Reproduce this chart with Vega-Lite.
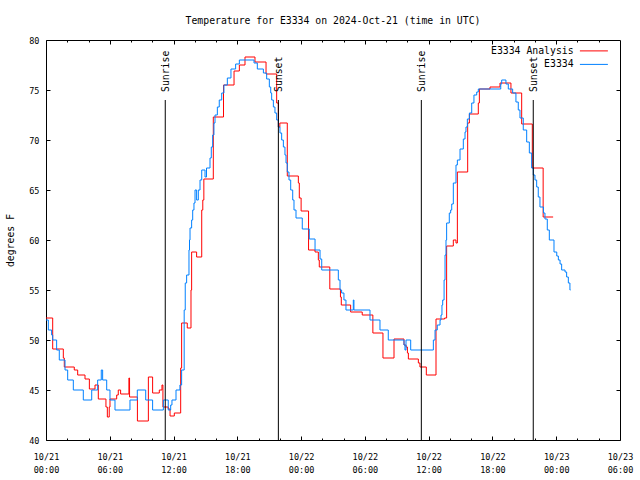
{
  "$schema": "https://vega.github.io/schema/vega-lite/v6.json",
  "width": 574,
  "height": 400,
  "autosize": {"type": "none"},
  "padding": {"left": 46, "top": 40, "right": 20, "bottom": 40},
  "background": "white",
  "config": {
    "view": {"stroke": "black", "strokeWidth": 1},
    "font": "DejaVu Sans Mono",
    "axis": {"domain": false, "grid": false, "tickColor": "black", "tickWidth": 1, "labelColor": "black", "labelFont": "DejaVu Sans Mono", "labelFontSize": 8.5, "titleColor": "black"}
  },
  "title": {"text": "Temperature for E3334 on 2024-Oct-21 (time in UTC)", "font": "DejaVu Sans Mono", "fontSize": 9.8, "fontWeight": "normal", "color": "black", "anchor": "middle", "frame": "group", "baseline": "alphabetic", "offset": 2},
  "datasets": {
    "temps": [
      {"series": "E3334 Analysis", "hour": 0, "temp": 52.2},
      {"series": "E3334 Analysis", "hour": 0.63, "temp": 49.1},
      {"series": "E3334 Analysis", "hour": 1.63, "temp": 48.2},
      {"series": "E3334 Analysis", "hour": 1.72, "temp": 47.3},
      {"series": "E3334 Analysis", "hour": 2.66, "temp": 47.0},
      {"series": "E3334 Analysis", "hour": 2.98, "temp": 46.5},
      {"series": "E3334 Analysis", "hour": 3.67, "temp": 46.1},
      {"series": "E3334 Analysis", "hour": 4.08, "temp": 45.1},
      {"series": "E3334 Analysis", "hour": 4.61, "temp": 45.5},
      {"series": "E3334 Analysis", "hour": 4.92, "temp": 44.1},
      {"series": "E3334 Analysis", "hour": 5.64, "temp": 43.3},
      {"series": "E3334 Analysis", "hour": 5.77, "temp": 42.3},
      {"series": "E3334 Analysis", "hour": 5.95, "temp": 43.3},
      {"series": "E3334 Analysis", "hour": 6.02, "temp": 44.1},
      {"series": "E3334 Analysis", "hour": 6.65, "temp": 44.5},
      {"series": "E3334 Analysis", "hour": 6.8, "temp": 45.0},
      {"series": "E3334 Analysis", "hour": 7.02, "temp": 44.6},
      {"series": "E3334 Analysis", "hour": 7.8, "temp": 46.2},
      {"series": "E3334 Analysis", "hour": 7.86, "temp": 44.3},
      {"series": "E3334 Analysis", "hour": 8.6, "temp": 41.9},
      {"series": "E3334 Analysis", "hour": 9.63, "temp": 46.3},
      {"series": "E3334 Analysis", "hour": 10.03, "temp": 44.7},
      {"series": "E3334 Analysis", "hour": 10.66, "temp": 45.0},
      {"series": "E3334 Analysis", "hour": 10.91, "temp": 45.5},
      {"series": "E3334 Analysis", "hour": 11.0, "temp": 43.3},
      {"series": "E3334 Analysis", "hour": 11.5, "temp": 43.1},
      {"series": "E3334 Analysis", "hour": 11.67, "temp": 42.4},
      {"series": "E3334 Analysis", "hour": 12.07, "temp": 42.7},
      {"series": "E3334 Analysis", "hour": 12.67, "temp": 47.2},
      {"series": "E3334 Analysis", "hour": 12.76, "temp": 51.7},
      {"series": "E3334 Analysis", "hour": 13.29, "temp": 51.2},
      {"series": "E3334 Analysis", "hour": 13.64, "temp": 55.0},
      {"series": "E3334 Analysis", "hour": 13.7, "temp": 58.8},
      {"series": "E3334 Analysis", "hour": 14.17, "temp": 58.3},
      {"series": "E3334 Analysis", "hour": 14.65, "temp": 63.0},
      {"series": "E3334 Analysis", "hour": 14.75, "temp": 64.0},
      {"series": "E3334 Analysis", "hour": 14.85, "temp": 66.1},
      {"series": "E3334 Analysis", "hour": 15.74, "temp": 72.3},
      {"series": "E3334 Analysis", "hour": 16.7, "temp": 75.5},
      {"series": "E3334 Analysis", "hour": 17.69, "temp": 76.9},
      {"series": "E3334 Analysis", "hour": 18.19, "temp": 77.5},
      {"series": "E3334 Analysis", "hour": 18.72, "temp": 78.3},
      {"series": "E3334 Analysis", "hour": 19.66, "temp": 77.8},
      {"series": "E3334 Analysis", "hour": 20.7, "temp": 76.6},
      {"series": "E3334 Analysis", "hour": 21.7, "temp": 73.7},
      {"series": "E3334 Analysis", "hour": 21.86, "temp": 71.3},
      {"series": "E3334 Analysis", "hour": 22.0, "temp": 71.7},
      {"series": "E3334 Analysis", "hour": 22.7, "temp": 66.4},
      {"series": "E3334 Analysis", "hour": 23.74, "temp": 65.7},
      {"series": "E3334 Analysis", "hour": 23.83, "temp": 64.2},
      {"series": "E3334 Analysis", "hour": 24.0, "temp": 62.9},
      {"series": "E3334 Analysis", "hour": 24.7, "temp": 59.0},
      {"series": "E3334 Analysis", "hour": 25.31, "temp": 58.8},
      {"series": "E3334 Analysis", "hour": 25.62, "temp": 58.0},
      {"series": "E3334 Analysis", "hour": 25.71, "temp": 57.3},
      {"series": "E3334 Analysis", "hour": 26.7, "temp": 55.1},
      {"series": "E3334 Analysis", "hour": 27.7, "temp": 54.3},
      {"series": "E3334 Analysis", "hour": 27.78, "temp": 53.5},
      {"series": "E3334 Analysis", "hour": 28.66, "temp": 52.8},
      {"series": "E3334 Analysis", "hour": 29.75, "temp": 52.5},
      {"series": "E3334 Analysis", "hour": 30.75, "temp": 50.7},
      {"series": "E3334 Analysis", "hour": 31.7, "temp": 48.2},
      {"series": "E3334 Analysis", "hour": 32.74, "temp": 50.1},
      {"series": "E3334 Analysis", "hour": 33.68, "temp": 49.5},
      {"series": "E3334 Analysis", "hour": 33.87, "temp": 49.3},
      {"series": "E3334 Analysis", "hour": 34.0, "temp": 48.7},
      {"series": "E3334 Analysis", "hour": 34.09, "temp": 48.1},
      {"series": "E3334 Analysis", "hour": 35.03, "temp": 47.7},
      {"series": "E3334 Analysis", "hour": 35.18, "temp": 47.3},
      {"series": "E3334 Analysis", "hour": 35.78, "temp": 46.5},
      {"series": "E3334 Analysis", "hour": 36.69, "temp": 52.1},
      {"series": "E3334 Analysis", "hour": 37.5, "temp": 52.2},
      {"series": "E3334 Analysis", "hour": 37.69, "temp": 59.4},
      {"series": "E3334 Analysis", "hour": 38.32, "temp": 60.0},
      {"series": "E3334 Analysis", "hour": 38.57, "temp": 59.7},
      {"series": "E3334 Analysis", "hour": 38.7, "temp": 66.8},
      {"series": "E3334 Analysis", "hour": 39.67, "temp": 71.7},
      {"series": "E3334 Analysis", "hour": 39.83, "temp": 72.6},
      {"series": "E3334 Analysis", "hour": 40.67, "temp": 73.7},
      {"series": "E3334 Analysis", "hour": 40.77, "temp": 75.1},
      {"series": "E3334 Analysis", "hour": 41.77, "temp": 75.3},
      {"series": "E3334 Analysis", "hour": 42.71, "temp": 75.7},
      {"series": "E3334 Analysis", "hour": 43.74, "temp": 74.7},
      {"series": "E3334 Analysis", "hour": 44.75, "temp": 71.6},
      {"series": "E3334 Analysis", "hour": 45.75, "temp": 67.2},
      {"series": "E3334 Analysis", "hour": 46.77, "temp": 62.3},
      {"series": "E3334 Analysis", "hour": 47.71, "temp": 62.3},
      {"series": "E3334", "hour": 0, "temp": 52.0},
      {"series": "E3334", "hour": 0.22, "temp": 51.0},
      {"series": "E3334", "hour": 0.53, "temp": 50.5},
      {"series": "E3334", "hour": 0.63, "temp": 50.0},
      {"series": "E3334", "hour": 1.0, "temp": 49.0},
      {"series": "E3334", "hour": 1.25, "temp": 48.0},
      {"series": "E3334", "hour": 1.79, "temp": 47.0},
      {"series": "E3334", "hour": 2.04, "temp": 46.0},
      {"series": "E3334", "hour": 2.57, "temp": 45.0},
      {"series": "E3334", "hour": 3.51, "temp": 44.0},
      {"series": "E3334", "hour": 4.3, "temp": 45.0},
      {"series": "E3334", "hour": 4.86, "temp": 46.0},
      {"series": "E3334", "hour": 5.2, "temp": 47.0},
      {"series": "E3334", "hour": 5.33, "temp": 46.0},
      {"series": "E3334", "hour": 5.71, "temp": 45.0},
      {"series": "E3334", "hour": 6.02, "temp": 44.0},
      {"series": "E3334", "hour": 6.49, "temp": 43.0},
      {"series": "E3334", "hour": 7.9, "temp": 44.0},
      {"series": "E3334", "hour": 8.59, "temp": 45.0},
      {"series": "E3334", "hour": 9.38, "temp": 44.0},
      {"series": "E3334", "hour": 10.03, "temp": 43.0},
      {"series": "E3334", "hour": 11.04, "temp": 44.0},
      {"series": "E3334", "hour": 11.5, "temp": 43.0},
      {"series": "E3334", "hour": 11.73, "temp": 43.5},
      {"series": "E3334", "hour": 11.85, "temp": 44.0},
      {"series": "E3334", "hour": 12.23, "temp": 45.0},
      {"series": "E3334", "hour": 12.6, "temp": 45.5},
      {"series": "E3334", "hour": 12.76, "temp": 47.0},
      {"series": "E3334", "hour": 13.0, "temp": 53.0},
      {"series": "E3334", "hour": 13.1, "temp": 55.7},
      {"series": "E3334", "hour": 13.23, "temp": 56.5},
      {"series": "E3334", "hour": 13.45, "temp": 59.0},
      {"series": "E3334", "hour": 13.5, "temp": 60.0},
      {"series": "E3334", "hour": 13.55, "temp": 61.2},
      {"series": "E3334", "hour": 13.7, "temp": 62.0},
      {"series": "E3334", "hour": 13.8, "temp": 63.0},
      {"series": "E3334", "hour": 13.92, "temp": 63.7},
      {"series": "E3334", "hour": 14.02, "temp": 65.0},
      {"series": "E3334", "hour": 14.17, "temp": 64.0},
      {"series": "E3334", "hour": 14.33, "temp": 65.0},
      {"series": "E3334", "hour": 14.49, "temp": 66.0},
      {"series": "E3334", "hour": 14.65, "temp": 67.0},
      {"series": "E3334", "hour": 14.96, "temp": 66.3},
      {"series": "E3334", "hour": 15.1, "temp": 67.2},
      {"series": "E3334", "hour": 15.43, "temp": 68.2},
      {"series": "E3334", "hour": 15.55, "temp": 69.3},
      {"series": "E3334", "hour": 15.68, "temp": 70.5},
      {"series": "E3334", "hour": 15.8, "temp": 71.7},
      {"series": "E3334", "hour": 15.9, "temp": 72.5},
      {"series": "E3334", "hour": 16.12, "temp": 73.3},
      {"series": "E3334", "hour": 16.3, "temp": 74.0},
      {"series": "E3334", "hour": 16.53, "temp": 74.7},
      {"series": "E3334", "hour": 16.74, "temp": 75.5},
      {"series": "E3334", "hour": 17.06, "temp": 76.2},
      {"series": "E3334", "hour": 17.4, "temp": 77.1},
      {"series": "E3334", "hour": 17.84, "temp": 77.6},
      {"series": "E3334", "hour": 18.19, "temp": 78.0},
      {"series": "E3334", "hour": 19.57, "temp": 77.7},
      {"series": "E3334", "hour": 19.88, "temp": 77.1},
      {"series": "E3334", "hour": 20.45, "temp": 76.7},
      {"series": "E3334", "hour": 20.76, "temp": 76.1},
      {"series": "E3334", "hour": 21.01, "temp": 75.3},
      {"series": "E3334", "hour": 21.14, "temp": 74.7},
      {"series": "E3334", "hour": 21.23, "temp": 74.0},
      {"series": "E3334", "hour": 21.39, "temp": 73.3},
      {"series": "E3334", "hour": 21.54, "temp": 72.7},
      {"series": "E3334", "hour": 21.7, "temp": 72.0},
      {"series": "E3334", "hour": 21.86, "temp": 71.3},
      {"series": "E3334", "hour": 22.01, "temp": 70.7},
      {"series": "E3334", "hour": 22.17, "temp": 70.0},
      {"series": "E3334", "hour": 22.33, "temp": 69.3},
      {"series": "E3334", "hour": 22.48, "temp": 68.5},
      {"series": "E3334", "hour": 22.58, "temp": 67.7},
      {"series": "E3334", "hour": 22.7, "temp": 66.8},
      {"series": "E3334", "hour": 22.86, "temp": 66.0},
      {"series": "E3334", "hour": 23.02, "temp": 65.0},
      {"series": "E3334", "hour": 23.21, "temp": 64.0},
      {"series": "E3334", "hour": 23.33, "temp": 63.0},
      {"series": "E3334", "hour": 23.52, "temp": 62.2},
      {"series": "E3334", "hour": 24.11, "temp": 61.1},
      {"series": "E3334", "hour": 24.77, "temp": 60.1},
      {"series": "E3334", "hour": 25.31, "temp": 59.0},
      {"series": "E3334", "hour": 25.78, "temp": 58.1},
      {"series": "E3334", "hour": 25.94, "temp": 57.0},
      {"series": "E3334", "hour": 27.5, "temp": 56.0},
      {"series": "E3334", "hour": 27.66, "temp": 55.0},
      {"series": "E3334", "hour": 27.81, "temp": 54.7},
      {"series": "E3334", "hour": 28.03, "temp": 54.0},
      {"series": "E3334", "hour": 28.22, "temp": 53.0},
      {"series": "E3334", "hour": 28.91, "temp": 54.0},
      {"series": "E3334", "hour": 28.97, "temp": 53.0},
      {"series": "E3334", "hour": 30.48, "temp": 52.0},
      {"series": "E3334", "hour": 31.42, "temp": 51.0},
      {"series": "E3334", "hour": 32.2, "temp": 50.0},
      {"series": "E3334", "hour": 33.68, "temp": 49.5},
      {"series": "E3334", "hour": 33.77, "temp": 49.0},
      {"series": "E3334", "hour": 33.87, "temp": 50.0},
      {"series": "E3334", "hour": 34.31, "temp": 49.0},
      {"series": "E3334", "hour": 36.44, "temp": 50.0},
      {"series": "E3334", "hour": 36.6, "temp": 51.0},
      {"series": "E3334", "hour": 36.81, "temp": 51.5},
      {"series": "E3334", "hour": 37.07, "temp": 52.0},
      {"series": "E3334", "hour": 37.16, "temp": 52.5},
      {"series": "E3334", "hour": 37.25, "temp": 53.5},
      {"series": "E3334", "hour": 37.32, "temp": 54.0},
      {"series": "E3334", "hour": 37.45, "temp": 56.0},
      {"series": "E3334", "hour": 37.54, "temp": 58.5},
      {"series": "E3334", "hour": 37.63, "temp": 60.0},
      {"series": "E3334", "hour": 37.69, "temp": 61.7},
      {"series": "E3334", "hour": 37.94, "temp": 62.7},
      {"series": "E3334", "hour": 38.07, "temp": 63.0},
      {"series": "E3334", "hour": 38.17, "temp": 63.6},
      {"series": "E3334", "hour": 38.32, "temp": 65.7},
      {"series": "E3334", "hour": 38.57, "temp": 67.5},
      {"series": "E3334", "hour": 38.7, "temp": 68.0},
      {"series": "E3334", "hour": 38.95, "temp": 69.1},
      {"series": "E3334", "hour": 39.26, "temp": 70.1},
      {"series": "E3334", "hour": 39.42, "temp": 70.8},
      {"series": "E3334", "hour": 39.51, "temp": 71.3},
      {"series": "E3334", "hour": 39.64, "temp": 72.1},
      {"series": "E3334", "hour": 39.83, "temp": 72.7},
      {"series": "E3334", "hour": 40.05, "temp": 73.7},
      {"series": "E3334", "hour": 40.26, "temp": 74.5},
      {"series": "E3334", "hour": 40.52, "temp": 74.8},
      {"series": "E3334", "hour": 40.67, "temp": 75.1},
      {"series": "E3334", "hour": 42.78, "temp": 75.6},
      {"series": "E3334", "hour": 42.87, "temp": 76.0},
      {"series": "E3334", "hour": 43.27, "temp": 75.6},
      {"series": "E3334", "hour": 43.49, "temp": 75.1},
      {"series": "E3334", "hour": 43.9, "temp": 74.7},
      {"series": "E3334", "hour": 44.21, "temp": 73.8},
      {"series": "E3334", "hour": 44.43, "temp": 73.0},
      {"series": "E3334", "hour": 44.59, "temp": 72.2},
      {"series": "E3334", "hour": 44.9, "temp": 71.0},
      {"series": "E3334", "hour": 45.22, "temp": 69.8},
      {"series": "E3334", "hour": 45.47, "temp": 68.7},
      {"series": "E3334", "hour": 45.69, "temp": 67.2},
      {"series": "E3334", "hour": 45.84, "temp": 66.5},
      {"series": "E3334", "hour": 46.0, "temp": 66.0},
      {"series": "E3334", "hour": 46.16, "temp": 65.3},
      {"series": "E3334", "hour": 46.31, "temp": 64.3},
      {"series": "E3334", "hour": 46.47, "temp": 63.3},
      {"series": "E3334", "hour": 46.8, "temp": 62.7},
      {"series": "E3334", "hour": 46.94, "temp": 62.1},
      {"series": "E3334", "hour": 47.16, "temp": 61.0},
      {"series": "E3334", "hour": 47.35, "temp": 60.0},
      {"series": "E3334", "hour": 47.79, "temp": 58.8},
      {"series": "E3334", "hour": 48.05, "temp": 58.4},
      {"series": "E3334", "hour": 48.2, "temp": 58.0},
      {"series": "E3334", "hour": 48.36, "temp": 57.6},
      {"series": "E3334", "hour": 48.51, "temp": 57.0},
      {"series": "E3334", "hour": 48.83, "temp": 56.8},
      {"series": "E3334", "hour": 48.98, "temp": 56.3},
      {"series": "E3334", "hour": 49.14, "temp": 55.7},
      {"series": "E3334", "hour": 49.29, "temp": 55.0},
      {"series": "E3334", "hour": 49.35, "temp": 55.0}
    ],
    "events": [
      {"event": "Sunrise", "hour": 11.22},
      {"event": "Sunset", "hour": 21.86},
      {"event": "Sunrise", "hour": 35.31},
      {"event": "Sunset", "hour": 45.84}
    ]
  },
  "layer": [
    {
      "data": {"name": "temps"},
      "mark": {"type": "line", "interpolate": "step-after", "strokeWidth": 1},
      "encoding": {
        "x": {
          "field": "hour", "type": "quantitative",
          "scale": {"domain": [0, 54], "nice": false, "zero": false},
          "axis": {
            "orient": "bottom", "values": [0, 6, 12, 18, 24, 30, 36, 42, 48, 54],
            "tickSize": -4, "labelPadding": 16, "labelBaseline": "top", "labelLineHeight": 13,
            "labelFlush": false, "labelOverlap": false, "title": null,
            "labelExpr": "['10/' + (21 + floor(datum.value / 24)), (datum.value % 24 < 10 ? '0' : '') + (datum.value % 24) + ':00']"
          }
        },
        "y": {
          "field": "temp", "type": "quantitative",
          "scale": {"domain": [40, 80], "nice": false, "zero": false},
          "axis": {
            "orient": "left", "values": [40, 45, 50, 55, 60, 65, 70, 75, 80],
            "tickSize": -4, "labelPadding": 11, "labelFlush": false, "labelOverlap": false,
            "title": "degrees F", "titleFont": "DejaVu Sans Mono", "titleFontSize": 9.8, "titleFontWeight": "normal",
            "titleX": -36, "titleY": 200, "titleAngle": 270, "titleAlign": "center", "titleBaseline": "middle"
          }
        },
        "color": {
          "field": "series", "type": "nominal",
          "scale": {"domain": ["E3334 Analysis", "E3334"], "range": ["#ff0000", "#0080ff"]},
          "legend": {
            "orient": "none", "legendX": 543, "legendY": 6, "title": null, "padding": 0,
            "symbolType": "M-4,0H4", "symbolSize": 49, "symbolStrokeWidth": 1,
            "labelFont": "DejaVu Sans Mono", "labelFontSize": 9.8, "labelColor": "black",
            "labelAlign": "right", "labelOffset": -25.2, "rowPadding": 2.5, "labelLimit": 0
          }
        }
      }
    },
    {
      "data": {"name": "events"},
      "mark": {"type": "rule", "color": "black", "strokeWidth": 1},
      "encoding": {
        "x": {
          "field": "hour", "type": "quantitative",
          "axis": {"orient": "bottom", "values": [2, 4, 8, 10, 14, 16, 20, 22, 26, 28, 32, 34, 38, 40, 44, 46, 50, 52], "tickSize": -2, "labels": false, "title": null}
        },
        "y": {"datum": 74, "axis": {"orient": "right", "values": [45, 50, 55, 60, 65, 70, 75], "tickSize": -4, "labels": false, "title": null}},
        "y2": {"datum": 40}
      }
    },
    {
      "data": {"name": "events"},
      "mark": {"type": "text", "angle": 270, "align": "left", "baseline": "middle", "dy": 1, "font": "DejaVu Sans Mono", "fontSize": 9.8, "color": "black"},
      "encoding": {
        "x": {
          "field": "hour", "type": "quantitative",
          "axis": {"orient": "top", "values": [6, 12, 18, 24, 30, 36, 42, 48], "tickSize": -4, "labels": false, "title": null}
        },
        "y": {"datum": 74.8, "axis": null},
        "text": {"field": "event"}
      }
    },
    {
      "data": {"name": "events"},
      "mark": {"type": "point", "opacity": 0},
      "encoding": {
        "x": {
          "field": "hour", "type": "quantitative",
          "axis": {"orient": "top", "values": [2, 4, 8, 10, 14, 16, 20, 22, 26, 28, 32, 34, 38, 40, 44, 46, 50, 52], "tickSize": -2, "labels": false, "title": null}
        },
        "y": {"datum": 74, "axis": null}
      }
    }
  ],
  "resolve": {"axis": {"x": "independent", "y": "independent"}}
}
